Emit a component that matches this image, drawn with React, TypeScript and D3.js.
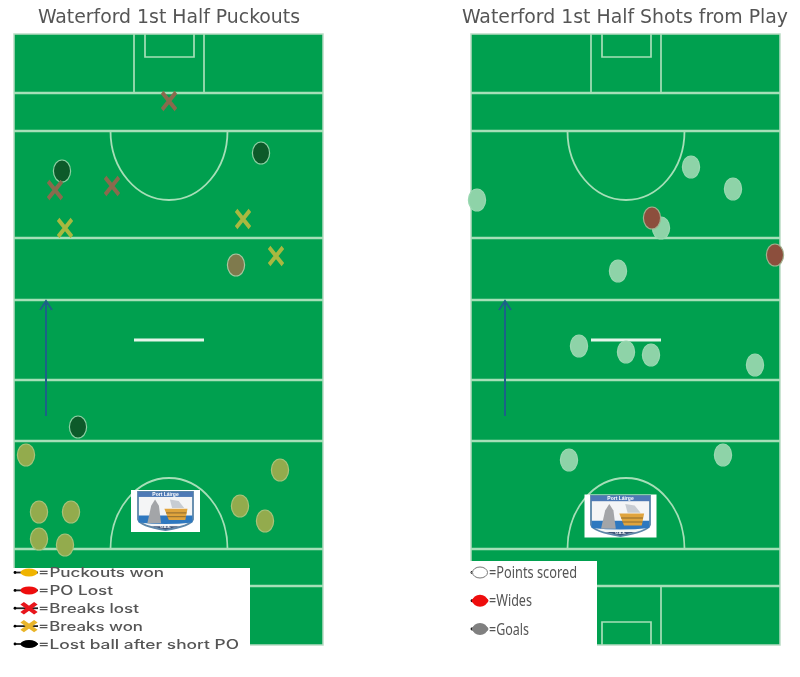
import * as d3 from "d3";

// pitch units: offset from the top left corner of each pitch
const breaksLost = [[155, 67], [41, 156], [98, 152]];
const breaksWon = [[51, 194], [229, 185], [262, 222]];
const lostShort = [[48, 137], [247, 119], [64, 393]];
const poLost = [[222, 231]];
const puckoutsWon = [[12, 421], [25, 478], [57, 478], [25, 505], [51, 511], [226, 472], [251, 487], [266, 436]];

const pointsScored = [[220, 133], [262, 155], [6, 166], [190, 194], [147, 237], [108, 312], [155, 318], [180, 321], [284, 331], [98, 426], [252, 421]];
const wides = [[181, 184], [304, 221]];

const pitchLines = [59, 97, 204, 266, 346, 407, 515, 552];

const leftLegend = ["=Puckouts won", "=PO Lost", "=Breaks lost", "=Breaks won", "=Lost ball after short PO"];
const rightLegend = ["=Points scored", "=Wides", "=Goals"];

const PITCH_W = 309;
const PITCH_H = 611;
const LINE = "#a6dfb8";
const cross = d3.symbol(d3.symbolTimes, 125)() as string;

function Ovals({ data, x, y, fill, stroke }: any) {
  return (
    <g>
      {data.map((d: number[], i: number) => (
        <ellipse key={i} cx={x(d[0])} cy={y(d[1])} rx={8.6} ry={11} fill={fill} stroke={stroke} strokeWidth={1.2} />
      ))}
    </g>
  );
}

function Crosses({ data, x, y, stroke }: any) {
  return (
    <g>
      {data.map((d: number[], i: number) => (
        <path key={i} d={cross} transform={`translate(${x(d[0])},${y(d[1])}) scale(1,1.25)`} fill="none" stroke={stroke} strokeWidth={3.6} />
      ))}
    </g>
  );
}

function Crest({ cx, top, w, h, boxW, boxH }: any) {
  const x0 = cx - w / 2;
  const bx = d3.scaleLinear().domain([0, 100]).range([x0, x0 + w]);
  const by = d3.scaleLinear().domain([0, 100]).range([top, top + h]);
  const shield = `M${bx(0)},${by(0)}H${bx(100)}V${by(72)}Q${bx(96)},${by(90)} ${bx(50)},${by(100)}Q${bx(4)},${by(90)} ${bx(0)},${by(72)}Z`;
  return (
    <g>
      <rect x={cx - boxW / 2} y={top - (boxH - h) / 2} width={boxW} height={boxH} fill="#fff" />
      <path d={shield} fill="#f4f5f6" stroke="#5d86a8" strokeWidth={1.8} />
      <rect x={bx(0)} y={by(0)} width={w} height={h * 0.13} fill="#4d79b5" />
      <text x={cx} y={by(10.5)} textAnchor="middle" fontFamily="Liberation Sans" fontSize={5} fontWeight={700} fill="#fff">Port Láirge</text>
      <path d={`M${bx(1)},${by(62)}H${bx(99)}V${by(80)}Q${bx(50)},${by(88)} ${bx(1)},${by(80)}Z`} fill="#2f78bf" />
      <path d={`M${bx(17)},${by(82)}L${bx(24)},${by(36)}L${bx(31)},${by(20)}L${bx(38)},${by(36)}L${bx(42)},${by(82)}Z`} fill="#a3a5a8" />
      <path d={`M${bx(58)},${by(20)}L${bx(62)},${by(42)}H${bx(84)}L${bx(74)},${by(24)}Z`} fill="#c7ccd2" />
      <path d={`M${bx(48)},${by(44)}H${bx(90)}L${bx(86)},${by(74)}H${bx(56)}Z`} fill="#e0a43c" />
      <path d={`M${bx(51)},${by(55)}H${bx(88)}M${bx(53)},${by(65)}H${bx(87)}`} stroke="#8a6a30" strokeWidth={1} fill="none" />
      <path d={`M${bx(24)},${by(90)}H${bx(76)}L${bx(50)},${by(99)}Z`} fill="#3d5478" />
      <text x={cx} y={by(96)} textAnchor="middle" fontFamily="Liberation Sans" fontSize={3.5} fontWeight={700} fill="#fff">G.A.A.</text>
    </g>
  );
}

function Pitch({ left, arrowAt, title, titleX, titleW, children }: any) {
  const x = d3.scaleLinear().domain([0, PITCH_W]).range([left, left + PITCH_W]);
  const y = d3.scaleLinear().domain([0, PITCH_H]).range([34, 34 + PITCH_H]);

  return (
    <g>
      <text x={titleX} y={23} textLength={titleW} lengthAdjust="spacingAndGlyphs" fontFamily="DejaVu Sans Condensed, DejaVu Sans" fontStretch="condensed" fontSize={20} fill="#555">{title}</text>
      <rect x={x(0)} y={y(0)} width={PITCH_W} height={PITCH_H} fill="#03a04f" stroke="#b9dcc4" strokeWidth={1.5} />

      {/* Field markings */}
      <g fill="none" stroke={LINE}>
        {pitchLines.map((d) => (
          <line key={d} x1={x(0)} x2={x(PITCH_W)} y1={y(d)} y2={y(d)} strokeWidth={2.3} />
        ))}
        <path d={`M${x(120)},${y(0)}V${y(59)}M${x(190)},${y(0)}V${y(59)}`} strokeWidth={1.7} />
        <path d={`M${x(131)},${y(0)}V${y(23)}H${x(180)}V${y(0)}`} strokeWidth={1.7} />
        <path d={`M${x(120)},${y(552)}V${y(PITCH_H)}M${x(190)},${y(552)}V${y(PITCH_H)}`} strokeWidth={1.7} />
        <path d={`M${x(131)},${y(PITCH_H)}V${y(588)}H${x(180)}V${y(PITCH_H)}`} strokeWidth={1.7} />
        <path d={`M${x(96.5)},${y(97)}A58.5,69 0 0 0 ${x(213.5)},${y(97)}`} strokeWidth={1.8} />
        <path d={`M${x(96.5)},${y(515)}A58.5,71 0 0 1 ${x(213.5)},${y(515)}`} strokeWidth={1.8} />
      </g>
      <line x1={x(120)} x2={x(190)} y1={y(306)} y2={y(306)} stroke="#e4f5e9" strokeWidth={3} />

      {/* Direction of play */}
      <g stroke="#1d6288" fill="none" strokeWidth={2}>
        <line x1={x(arrowAt)} x2={x(arrowAt)} y1={y(382)} y2={y(267)} />
        <path d={`M${x(arrowAt - 6)},${y(276)}L${x(arrowAt)},${y(267)}L${x(arrowAt + 6)},${y(276)}`} />
      </g>

      {children(x, y)}
    </g>
  );
}

function LegendMark({ x, y, fill, symbol, back, front }: any) {
  return (
    <g>
      <line x1={x - back} x2={x + front} y1={y} y2={y} stroke="#222" strokeWidth={1.8} />
      <circle cx={x - back} cy={y} r={1.4} fill="#000" />
      {symbol === "x" ? (
        <path d={cross} transform={`translate(${x},${y}) scale(1,0.72)`} fill="none" stroke={fill} strokeWidth={5} />
      ) : (
        <ellipse cx={x} cy={y} rx={8.5} ry={4} fill={fill} />
      )}
    </g>
  );
}

export default function App() {
  const leftY = d3.scalePoint().domain(leftLegend).range([572.5, 644]);
  const rightY = d3.scalePoint().domain(rightLegend).range([572.5, 629]);
  const leftColors = ["#f0b400", "#ee1111", "#e8141c", "#e9b52c", "#000"];
  const leftWidths = [126, 75, 101, 105, 201];
  const rightColors = ["#fff", "#ee1111", "#808080"];
  const rightWidths = [88, 43, 40];

  return (
    <svg width={800} height={677} viewBox="0 0 800 677" style={{ position: "absolute", left: 0, top: 0 }}>
      <defs>
        <filter id="soft" x="0" y="0" width="100%" height="100%">
          <feGaussianBlur stdDeviation={0.7} />
        </filter>
      </defs>
      <g filter="url(#soft)">
        <rect width={800} height={677} fill="#fff" />

        <Pitch left={14} arrowAt={32} title="Waterford 1st Half Puckouts" titleX={38} titleW={262}>
          {(x: any, y: any) => (
            <g>
              <Crest cx={165.5} top={492} w={55} h={38} boxW={69} boxH={42} />
              <Ovals data={puckoutsWon} x={x} y={y} fill="#93ab4d" stroke="#a9c27a" />
              <Ovals data={lostShort} x={x} y={y} fill="#0b5a2c" stroke="#8fcfa3" />
              <Ovals data={poLost} x={x} y={y} fill="#7f7a4e" stroke="#a9c6a0" />
              <Crosses data={breaksLost} x={x} y={y} stroke="#8a6a4e" />
              <Crosses data={breaksWon} x={x} y={y} stroke="#a9b83f" />
            </g>
          )}
        </Pitch>

        <Pitch left={471} arrowAt={34} title="Waterford 1st Half Shots from Play" titleX={462} titleW={326}>
          {(x: any, y: any) => (
            <g>
              <Crest cx={620.5} top={496} w={59} h={40} boxW={72} boxH={43} />
              <Ovals data={pointsScored} x={x} y={y} fill="#8ed3a8" stroke="#9ad8b2" />
              <Ovals data={wides} x={x} y={y} fill="#8c4f3e" stroke="#a3b08f" />
            </g>
          )}
        </Pitch>

        {/* Legends */}
        <rect x={13} y={568} width={237} height={84} fill="#fff" />
        {leftLegend.map((d, i) => (
          <g key={d}>
            <LegendMark x={29} y={leftY(d)} fill={leftColors[i]} symbol={i === 2 || i === 3 ? "x" : "o"} back={14} front={9} />
            <text x={38} y={(leftY(d) as number) + 4.5} textLength={leftWidths[i]} lengthAdjust="spacingAndGlyphs" fontFamily="Inter" fontSize={12.5} fontWeight={500} fill="#555">{d}</text>
          </g>
        ))}

        <rect x={470} y={561} width={127} height={91} fill="#fff" />
        {rightLegend.map((d, i) => (
          <g key={d}>
            <LegendMark x={480} y={rightY(d)} fill={rightColors[i]} symbol="o" back={8} front={8} />
            <ellipse cx={480} cy={rightY(d)} rx={7.5} ry={i === 0 ? 5.5 : 6} fill={rightColors[i]} stroke={i === 0 ? "#777" : "none"} strokeWidth={1} />
            <text x={489} y={(rightY(d) as number) + 5.5} textLength={rightWidths[i]} lengthAdjust="spacingAndGlyphs" fontFamily="Noto Sans" fontSize={16} fill="#555">{d}</text>
          </g>
        ))}
      </g>
    </svg>
  );
}
